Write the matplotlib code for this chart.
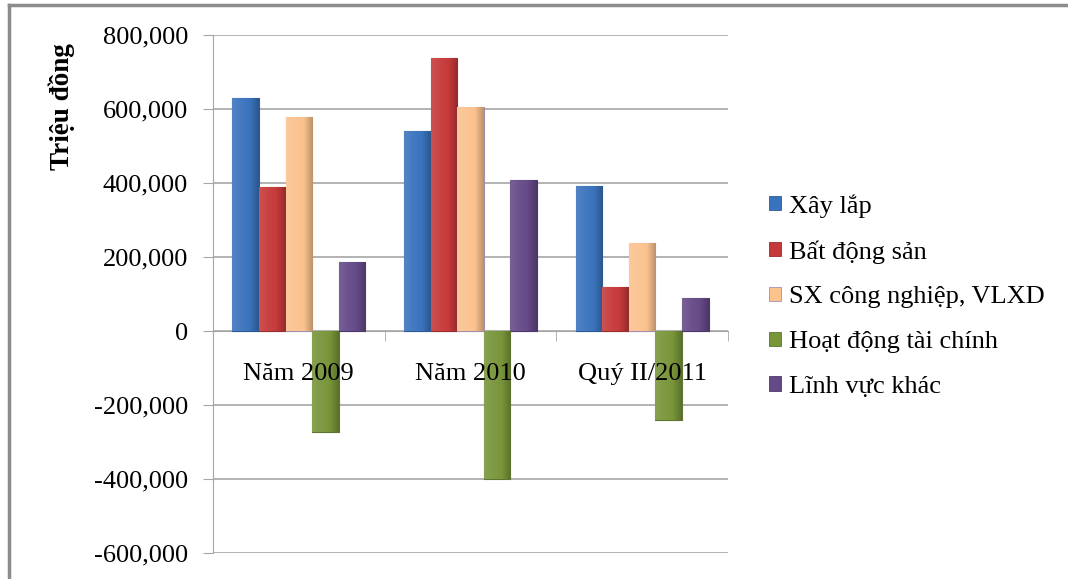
import numpy as np
import matplotlib
matplotlib.use("Agg")
import matplotlib.pyplot as plt
from matplotlib.colors import LinearSegmentedColormap, to_rgb
from matplotlib.patches import Patch
from matplotlib.lines import Line2D

categories = ["Năm 2009", "Năm 2010", "Quý II/2011"]
series_names = ["Xây lắp", "Bất động sản", "SX công nghiệp, VLXD",
                "Hoạt động tài chính", "Lĩnh vực khác"]
xay_lap = [630000, 540000, 392000]
bat_dong_san = [389000, 739000, 119000]
sx_cong_nghiep = [578000, 605000, 238000]
tai_chinh = [-273000, -400000, -240000]
linh_vuc_khac = [186000, 408000, 89000]
series_values = [xay_lap, bat_dong_san, sx_cong_nghiep, tai_chinh, linh_vuc_khac]
colors = ["#3a73bd", "#c6393a", "#fbc28e", "#78953a", "#654a88"]
edges = ["#2b5a95", "#9a2c2c", "#a58fb0", "#5c7530", "#4c3868"]

y_ticks = np.arange(-600000, 800001, 200000)

plt.rcParams['font.family'] = ['Liberation Serif', 'DejaVu Serif']
FS = 19

fig = plt.figure(figsize=(10.68, 5.79), dpi=100)
ax = fig.add_axes([213 / 1068, 1 - 553 / 579, (728 - 213) / 1068, (553 - 35) / 579])

x = np.arange(len(categories))
bw = 0.155
n = len(series_names)


def shade(c, f):
    r = np.array(to_rgb(c))
    if f > 0:
        return tuple(r + (1 - r) * f)
    return tuple(r * (1 + f))


# gridlines drawn below the bars
for v in y_ticks:
    ax.axhline(v, color="#a6a6a6", linewidth=1.2, zorder=0.5)

for i, (name, vals) in enumerate(zip(series_names, series_values)):
    pos = x + (i - (n - 1) / 2) * bw
    bars = ax.bar(pos, vals, width=bw, color=colors[i], edgecolor=edges[i],
                  linewidth=0.8, label=name, zorder=2)
    cmap = LinearSegmentedColormap.from_list(
        "g%d" % i, [shade(colors[i], 0.12), shade(colors[i], 0.05),
                    colors[i], shade(colors[i], -0.25)])
    grad = np.linspace(0, 1, 64).reshape(1, -1)
    for b in bars:
        x0, y0 = b.get_x(), b.get_y()
        im = ax.imshow(grad, extent=[x0, x0 + b.get_width(), y0, y0 + b.get_height()],
                       aspect='auto', cmap=cmap, zorder=2.1, origin='lower')
        im.set_clip_path(b)

ax.set_xlim(-0.5, 2.5)
ax.set_ylim(-600000, 800000)
ax.set_yticks(y_ticks)
ax.set_yticklabels(["{:,}".format(v) for v in y_ticks])

ax.set_xticks(x)
ax.set_xticklabels(categories)
ax.set_xticks([0.5, 1.5, 2.5], minor=True)
ax.tick_params(axis='x', which='major', length=0, pad=23, labelsize=FS)
ax.tick_params(axis='x', which='minor', length=7, color="#a6a6a6", direction='out')
ax.tick_params(axis='y', length=7, color="#a6a6a6", pad=11, labelsize=FS)
ax.xaxis.set_zorder(3)  # category labels sit over the negative bars

ax.spines['bottom'].set_position(('data', 0))
ax.spines['bottom'].set_color("#a6a6a6")
ax.spines['bottom'].set_zorder(1.5)
ax.spines['left'].set_color("#a6a6a6")
ax.spines['top'].set_visible(False)
ax.spines['right'].set_visible(False)

fig.text(62 / 1068, 1 - 107 / 579, "Triệu đồng", rotation=90, fontsize=19.5,
         fontweight='bold', ha='center', va='center')

handles = [Patch(facecolor=c, edgecolor=e, linewidth=0.6) for c, e in zip(colors, edges)]
fig.legend(handles, series_names, loc='center left',
           bbox_to_anchor=(769 / 1068, 1 - 296 / 579), frameon=False,
           fontsize=FS, handlelength=0.45, handleheight=0.45, handletextpad=0.3,
           labelspacing=0.86, borderpad=0, borderaxespad=0)

# outer border (top and left visible)
fig.add_artist(Line2D([9 / 1068, 1], [1 - 5 / 579, 1 - 5 / 579],
                      transform=fig.transFigure, color="#8c8c8c", linewidth=2.5))
fig.add_artist(Line2D([9 / 1068, 9 / 1068], [0, 1 - 5 / 579],
                      transform=fig.transFigure, color="#8c8c8c", linewidth=2.5))

fig.savefig("out.png", dpi=100)
